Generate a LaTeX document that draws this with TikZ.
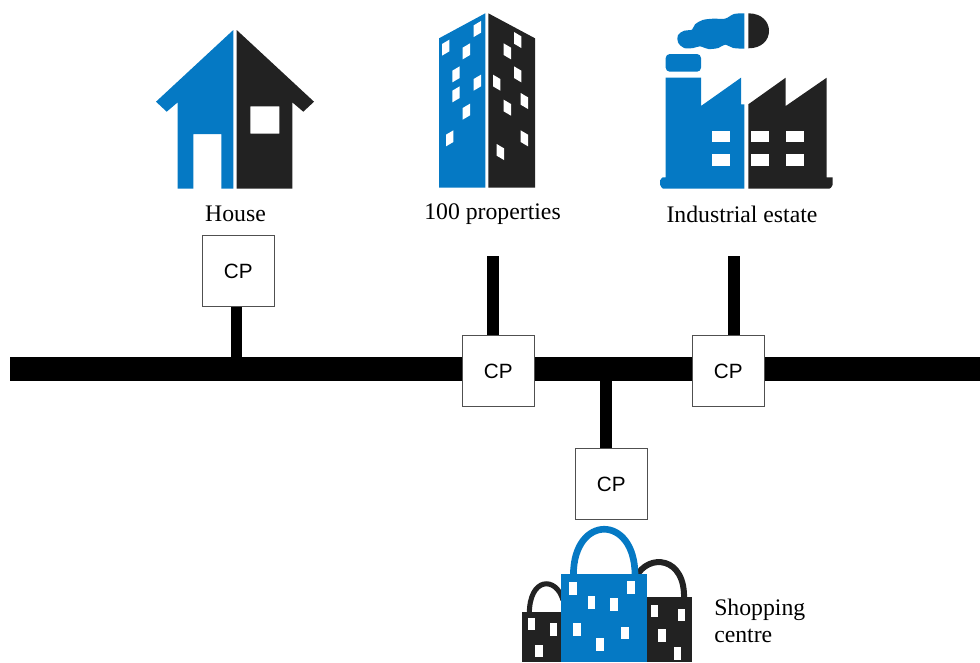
\documentclass[tikz,border=0pt]{standalone}
\usepackage{fontspec}
\setmainfont{Liberation Serif}
\setsansfont{Liberation Sans}
\definecolor{iconblue}{HTML}{0579C4}
\definecolor{iconblack}{HTML}{222222}
\definecolor{boxedge}{HTML}{505050}
\tikzset{
  blueshape/.style={fill=iconblue,draw=none},
  blackshape/.style={fill=iconblack,draw=none},
  hole/.style={fill=white,draw=none},
  cpbox/.style={draw=boxedge,line width=0.6pt,fill=white,minimum width=53.6pt,minimum height=53.6pt,inner sep=0pt,font=\sffamily\fontsize{15.5}{17}\selectfont},
  bus/.style={line width=17.8pt,draw=black},
  stub/.style={line width=8.7pt,draw=black},
  caption/.style={inner sep=0pt,anchor=base,font=\fontsize{17.8}{20.25}\selectfont},
  bluebar/.style={line width=5pt,draw=iconblue},
  blackbar/.style={line width=3.8pt,draw=iconblack}
}
\begin{document}
\begin{tikzpicture}[x=0.75pt,y=-0.75pt]
\useasboundingbox (0,0) rectangle (980,662);
% bus
\coordinate (busL) at (10,369.2);
\coordinate (busR) at (980,369.2);
\draw[bus] (busL) -- (busR);
% tap points
\coordinate (tapA) at (236.5,369);
\coordinate (topB) at (492.8,256);
\coordinate (topC) at (734.2,256);
\coordinate (tapD) at (606,369);
% CP boxes
\node[cpbox] (cpA) at (238.2,270.9) {CP};
\node[cpbox] (cpB) at (498.2,370.9) {CP};
\node[cpbox] (cpC) at (728.2,370.9) {CP};
\node[cpbox] (cpD) at (611.2,484) {CP};
\draw[stub] (tapA) -- (tapA |- cpA.south);
\draw[stub] (topB) -- (topB |- cpB.north);
\draw[stub] (topC) -- (topC |- cpC.north);
\draw[stub] (tapD) -- (tapD |- cpD.north);
% labels
\node[caption] (lblHouse) at (235.5,221.5) {House};
\node[caption] (lblProps) at (492.5,219.5) {100 properties};
\node[caption] (lblInd) at (742,222) {Industrial estate};
\node[caption,anchor=base west] (lblShop) at (714,615.5) {Shopping};
\node[caption,anchor=base west] (lblCentre) at (714,642) {centre};
% house
\fill[blueshape] (233.3,30) -- (156,101.7) -- (166.7,111.7) -- (177.7,102.3) -- (177.7,188.5) -- (193.3,188.5) -- (193.3,134) -- (221.3,134) -- (221.3,188.5) -- (233.3,188.5) -- cycle;
\fill[blackshape,even odd rule] (236.7,30) -- (314,101.7) -- (303.3,111.7) -- (292.3,102.3) -- (292.3,188.5) -- (236.7,188.5) -- cycle (250.3,106.3) rectangle (279.3,133.7);
% building
\fill[blueshape] (439,38.3) -- (485.3,13.3) -- (485.3,187.7) -- (439,187.7) -- cycle;
\fill[blackshape] (488.3,13.3) -- (535,38.3) -- (535,187.7) -- (488.3,187.7) -- cycle;
\foreach \zx/\zy in {172/72,77/128,139/139,108/208,172/233,108/268,139/320,89/400}{
  \fill[hole] ({420+(\zx-11)/3},{5+(\zy+24)/3}) -- ({420+(\zx-11)/3},{5+(\zy-11)/3}) -- ({420+(\zx+11)/3},{5+(\zy-24)/3}) -- ({420+(\zx+11)/3},{5+(\zy+11)/3}) -- cycle;
}
\foreach \zx/\zy in {293/105,262/139,293/208,230/233,313/288,262/308,313/400,241/441}{
  \fill[hole] ({420+(\zx-11)/3},{5+(\zy-24)/3}) -- ({420+(\zx-11)/3},{5+(\zy+11)/3}) -- ({420+(\zx+11)/3},{5+(\zy+24)/3}) -- ({420+(\zx+11)/3},{5+(\zy-11)/3}) -- cycle;
}
% factory
\begin{scope}[shift={(650,5)},x=0.25pt,y=-0.25pt]
\fill[blueshape] (283,25) -- plot[smooth,tension=0.55] coordinates {(283,25) (252,27) (225,41) (190,41) (158,45) (135,58) (126,74) (103,77) (84,90) (84,112) (102,129) (130,129) (150,124) (175,132) (205,129) (225,119) (250,129) (283,131)} -- cycle;
\end{scope}
\fill[blackshape] (748.3,13.3) .. controls (762,13.3) and (769,22) .. (769,30.8) .. controls (769,40) and (762,48.3) .. (748.3,48.3) -- cycle;
\fill[blueshape,rounded corners=3pt] (665.7,71.7) -- (665.7,54) -- (701,54) -- (701,71.7) -- cycle;
\fill[blueshape] (665.7,77.7) -- (701,77.7) -- (701,106) -- (741,77.7) -- (741,104.3) -- (744.3,104.3) -- (744.3,188.5) -- (663,188.5) to[out=180,in=90] (660,185) -- (660,180) to[out=-90,in=180] (663,177.3) -- (665.7,177.3) -- cycle;
\fill[blackshape] (748.3,104.3) -- (785.7,77.7) -- (785.7,106) -- (826.7,77.7) -- (826.7,177.3) -- (832.7,177.3) -- (832.7,185) to[out=90,in=0] (829.7,188.5) -- (748.3,188.5) -- cycle;
\foreach \wx in {712.3,751.3,786}{
  \fill[hole] (\wx,130.7) rectangle (\wx+17.6,141.7);
  \fill[hole] (\wx,154) rectangle (\wx+17.6,165.7);
}
% bags
\draw[blackbar] (529.3,614) .. controls (529.3,577) and (556,576) .. (563,600);
\draw[blackbar,line width=4.5pt] (636,577) .. controls (648,553) and (686,556) .. (684,600);
\fill[blackshape] (522,612.3) rectangle (561,662);
\fill[blackshape] (647,597.3) rectangle (692,662);
\draw[bluebar] (573.4,575) .. controls (573.4,514) and (635,514) .. (635,575);
\fill[blueshape] (561,574.3) rectangle (647,662);
\foreach \zx/\zy in {189/205,363/203,244/247,312/253,201/328,345/339,270/374,64/312,131/328,87/393,434/273,514/285,456/347,502/401}{
  \fill[hole] ({510+(\zx-11)/3},{520+(\zy-19)/3}) rectangle ({510+(\zx+11)/3},{520+(\zy+19)/3});
}
\end{tikzpicture}
\end{document}
